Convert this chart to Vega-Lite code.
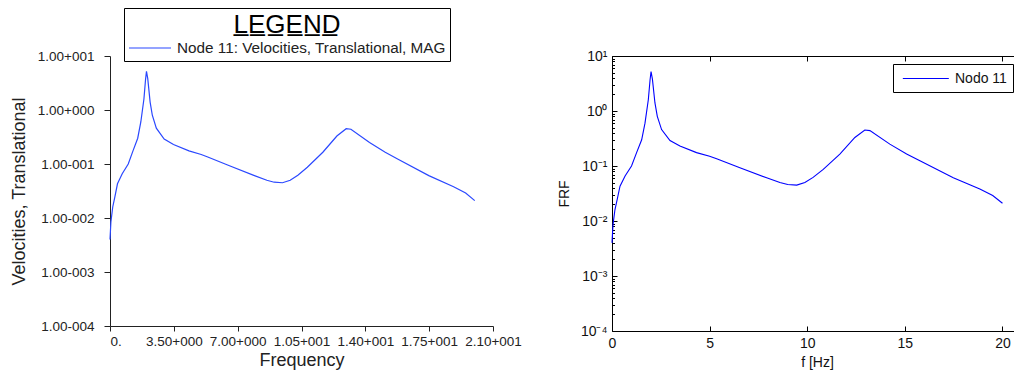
{
  "$schema": "https://vega.github.io/schema/vega-lite/v6.json",
  "background": "white",
  "padding": {"left": 10, "top": 7, "right": 0, "bottom": 0},
  "bounds": "flush",
  "spacing": 119,
  "config": {
    "font": "Liberation Sans",
    "view": {"stroke": null},
    "axis": {"grid": false, "labelFont": "Liberation Sans", "titleFont": "Liberation Sans", "titleFontWeight": "normal"}
  },
  "datasets": {
    "frf": [
      {"f": 0.0, "v": 0.004},
      {"f": 0.05, "v": 0.0085},
      {"f": 0.15, "v": 0.016},
      {"f": 0.27, "v": 0.025},
      {"f": 0.41, "v": 0.043},
      {"f": 0.67, "v": 0.066},
      {"f": 1.0, "v": 0.1},
      {"f": 1.26, "v": 0.175},
      {"f": 1.52, "v": 0.3},
      {"f": 1.69, "v": 0.6},
      {"f": 1.86, "v": 1.6},
      {"f": 1.95, "v": 3.7},
      {"f": 2.0, "v": 5.2},
      {"f": 2.07, "v": 3.8},
      {"f": 2.2, "v": 1.4},
      {"f": 2.32, "v": 0.8},
      {"f": 2.54, "v": 0.46},
      {"f": 2.97, "v": 0.29},
      {"f": 3.48, "v": 0.23},
      {"f": 4.33, "v": 0.175},
      {"f": 5.0, "v": 0.15},
      {"f": 5.36, "v": 0.135},
      {"f": 6.55, "v": 0.093},
      {"f": 7.92, "v": 0.061},
      {"f": 8.6, "v": 0.05},
      {"f": 9.0, "v": 0.046},
      {"f": 9.46, "v": 0.045},
      {"f": 9.88, "v": 0.05},
      {"f": 10.3, "v": 0.062},
      {"f": 10.82, "v": 0.087},
      {"f": 11.67, "v": 0.165},
      {"f": 12.44, "v": 0.33},
      {"f": 12.95, "v": 0.45},
      {"f": 13.21, "v": 0.44},
      {"f": 14.23, "v": 0.25},
      {"f": 15.09, "v": 0.165},
      {"f": 15.77, "v": 0.124},
      {"f": 17.48, "v": 0.061},
      {"f": 18.84, "v": 0.038},
      {"f": 19.5, "v": 0.029},
      {"f": 20.0, "v": 0.021}
    ]
  },
  "resolve": {"scale": {"color": "independent"}, "legend": {"color": "independent"}},
  "hconcat": [
    {
      "width": 383,
      "height": 270,
      "data": {"name": "frf"},
      "mark": {"type": "line", "strokeWidth": 1.2},
      "encoding": {
        "x": {
          "field": "f", "type": "quantitative",
          "scale": {"domain": [0, 21], "nice": false, "zero": false},
          "axis": {
            "values": [0, 3.5, 7, 10.5, 14, 17.5, 21],
            "labelExpr": "datum.value == 0 ? '0.' : datum.value < 10 ? format(datum.value, '.2f') + '+000' : format(datum.value / 10, '.2f') + '+001'",
            "labelAlign": {"condition": {"test": "datum.value == 0", "value": "left"}, "value": "center"},
            "labelOverlap": false, "labelBound": false, "labelFlush": false,
            "tickSize": 5, "tickColor": "#222", "domainColor": "#222",
            "labelColor": "#222", "labelFontSize": 13.5, "labelPadding": 3,
            "title": "Frequency", "titleFontSize": 18, "titleColor": "#222", "titlePadding": 4
          }
        },
        "y": {
          "field": "v", "type": "quantitative",
          "scale": {"type": "log", "domain": [0.0001, 10], "nice": false},
          "axis": {
            "values": [0.0001, 0.001, 0.01, 0.1, 1, 10],
            "labelExpr": "'1.00' + (datum.value >= 1 ? '+' : '-') + '00' + abs(round(log(datum.value) / LN10))",
            "labelOverlap": false, "labelBound": false, "labelFlush": false,
            "tickSize": 6, "tickColor": "#222", "domainColor": "#222",
            "labelColor": "#222", "labelFontSize": 13.5, "labelPadding": 10,
            "title": "Velocities, Translational", "titleFontSize": 18, "titleColor": "#222", "titlePadding": 9
          }
        },
        "color": {
          "datum": "Node 11: Velocities, Translational, MAG",
          "scale": {"range": ["#2a48ff"]},
          "legend": {
            "orient": "none", "legendX": 14, "legendY": -48,
            "title": "L̲E̲G̲E̲N̲D̲", "titleFontSize": 26, "titleFontWeight": "normal", "titleColor": "#000",
            "titleAnchor": "middle", "titlePadding": 2,
            "strokeColor": "#000", "fillColor": "white", "padding": 4,
            "symbolType": "M-1,0H5", "symbolSize": 196, "symbolStrokeWidth": 1.2,
            "labelFontSize": 15.3, "labelColor": "#222", "labelOffset": 33, "labelLimit": 500
          }
        }
      }
    },
    {
      "width": 410,
      "height": 275,
      "data": {"name": "frf"},
      "layer": [
        {
          "mark": {"type": "line", "strokeWidth": 1.1},
          "encoding": {
            "x": {
              "field": "f", "type": "quantitative",
              "scale": {"domain": [0, 21], "nice": false, "zero": false},
              "axis": {
                "orient": "bottom", "values": [0, 5, 10, 15, 20],
                "tickSize": -5, "tickColor": "#000", "domainColor": "#000",
                "labelColor": "#111", "labelFontSize": 14, "labelPadding": 10,
                "labelOverlap": false, "labelBound": false, "labelFlush": false,
                "title": "f [Hz]", "titleFontSize": 14, "titleColor": "#111", "titlePadding": 5
              }
            },
            "y": {
              "field": "v", "type": "quantitative",
              "scale": {"type": "log", "domain": [0.0001, 10], "nice": false},
              "axis": {
                "orient": "left",
                "values": [0.0001, 0.0002, 0.0003, 0.0004, 0.0005, 0.0006, 0.0007, 0.0008, 0.0009, 0.001, 0.002, 0.003, 0.004, 0.005, 0.006, 0.007, 0.008, 0.009, 0.01, 0.02, 0.03, 0.04, 0.05, 0.06, 0.07, 0.08, 0.09, 0.1, 0.2, 0.3, 0.4, 0.5, 0.6, 0.7, 0.8, 0.9, 1, 2, 3, 4, 5, 6, 7, 8, 9, 10],
                "labelExpr": "datum.value == 10 ? '10¹' : datum.value == 1 ? '10⁰' : datum.value == 0.1 ? '10⁻¹' : datum.value == 0.01 ? '10⁻²' : datum.value == 0.001 ? '10⁻³' : datum.value == 0.0001 ? '10⁻⁴' : ''",
                "tickSize": {"condition": {"test": "indexof([10, 1, 0.1, 0.01, 0.001, 0.0001], datum.value) >= 0", "value": -5}, "value": -2.5},
                "tickColor": "#000", "domainColor": "#000",
                "labelColor": "#111", "labelFontSize": 14, "labelPadding": 10,
                "labelOverlap": false, "labelBound": false, "labelFlush": false,
                "title": "FRF", "titleFontSize": 14, "titleColor": "#111", "titlePadding": 9
              }
            },
            "color": {
              "datum": "Nodo 11",
              "scale": {"range": ["#0000ff"]},
              "legend": {
                "orient": "none", "legendX": 281, "legendY": 8,
                "title": null,
                "strokeColor": "#000", "fillColor": "white", "padding": 6, "symbolOffset": 3,
                "symbolType": "M-1,0H5", "symbolSize": 235, "symbolStrokeWidth": 1.1,
                "labelFontSize": 14, "labelColor": "#111", "labelOffset": 36, "labelLimit": 300
              }
            }
          }
        },
        {
          "mark": {"type": "line", "opacity": 0},
          "encoding": {
            "x": {
              "field": "f", "type": "quantitative",
              "axis": {"orient": "top", "values": [0, 5, 10, 15, 20], "tickSize": -5, "labels": false, "title": null, "tickColor": "#000", "domainColor": "#000"}
            },
            "y": {
              "field": "v", "type": "quantitative",
              "axis": {
                "orient": "right",
                "values": [0.0001, 0.0002, 0.0003, 0.0004, 0.0005, 0.0006, 0.0007, 0.0008, 0.0009, 0.001, 0.002, 0.003, 0.004, 0.005, 0.006, 0.007, 0.008, 0.009, 0.01, 0.02, 0.03, 0.04, 0.05, 0.06, 0.07, 0.08, 0.09, 0.1, 0.2, 0.3, 0.4, 0.5, 0.6, 0.7, 0.8, 0.9, 1, 2, 3, 4, 5, 6, 7, 8, 9, 10],
                "tickSize": {"condition": {"test": "indexof([10, 1, 0.1, 0.01, 0.001, 0.0001], datum.value) >= 0", "value": -5}, "value": -2.5},
                "labels": false, "title": null, "tickColor": "#000", "domainColor": "#000"
              }
            }
          }
        }
      ],
      "resolve": {"axis": {"x": "independent", "y": "independent"}}
    }
  ]
}
